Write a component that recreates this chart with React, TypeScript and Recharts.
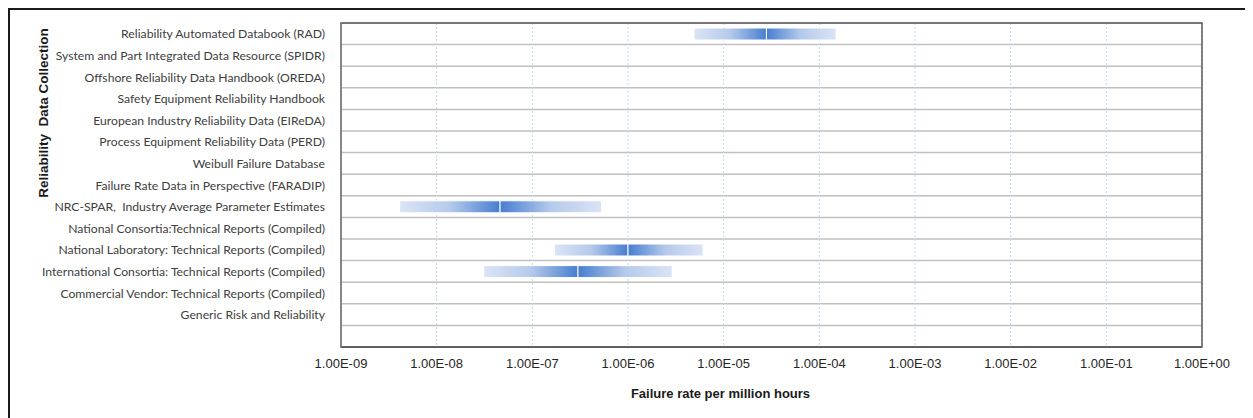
import { ComposedChart, Bar, XAxis, YAxis, CartesianGrid, ReferenceArea, Label } from 'recharts'

// reliability data sources (last row is an empty spacer row)
const categories = [
  'Reliability Automated Databook (RAD)',
  'System and Part Integrated Data Resource (SPIDR)',
  'Offshore Reliability Data Handbook (OREDA)',
  'Safety Equipment Reliability Handbook',
  'European Industry Reliability Data (EIReDA)',
  'Process Equipment Reliability Data (PERD)',
  'Weibull Failure Database',
  'Failure Rate Data in Perspective (FARADIP)',
  'NRC-SPAR,  Industry Average Parameter Estimates',
  'National Consortia:Technical Reports (Compiled)',
  'National Laboratory: Technical Reports (Compiled)',
  'International Consortia: Technical Reports (Compiled)',
  'Commercial Vendor: Technical Reports (Compiled)',
  'Generic Risk and Reliability',
  '',
]

// failure rate range per source: low / typical / high
const low = [4.9e-6, null, null, null, null, null, null, null, 4.1e-9, null, 1.7e-7, 3.1e-8, null, null, null]
const mid = [2.8e-5, null, null, null, null, null, null, null, 4.6e-8, null, 1.0e-6, 3.0e-7, null, null, null]
const high = [1.5e-4, null, null, null, null, null, null, null, 5.3e-7, null, 6.1e-6, 2.9e-6, null, null, null]

const xTicks = [1e-9, 1e-8, 1e-7, 1e-6, 1e-5, 1e-4, 1e-3, 1e-2, 1e-1, 1]

const data = categories.map((name, i) => ({
  name,
  lower: low[i] != null ? [low[i], mid[i]] : null,
  upper: high[i] != null ? [mid[i], high[i]] : null,
}))

const fmt = (v: number) => {
  const [m, e] = v.toExponential(2).split('e')
  const n = Number(e)
  return `${m}E${n < 0 ? '-' : '+'}${String(Math.abs(n)).padStart(2, '0')}`
}

const BAR = 12

// plain svg text so long names don't wrap
const CategoryTick = ({ x, y, payload }: any) => (
  <text
    x={x}
    y={y}
    textAnchor="end"
    dominantBaseline="central"
    fontFamily="Lato"
    fontSize={12.2}
    fill="#404040"
    style={{ whiteSpace: 'pre' }}
  >
    {payload.value}
  </text>
)

export default function App() {
  return (
    <div
      style={{
        width: 1243,
        height: 408,
        borderLeft: '2px solid #1a1a1a',
        borderTop: '2px solid #1a1a1a',
        background: '#fff',
        overflow: 'hidden',
      }}
    >
      <div style={{ marginLeft: -2 }}>
        <ComposedChart
          width={1250}
          height={400}
          layout="vertical"
          data={data}
          margin={{ top: 13, right: 56, left: 0, bottom: 33 }}
          barGap={-BAR}
        >
          <defs>
            <linearGradient id="gLeft" x1="0" y1="0" x2="1" y2="0">
              <stop offset="0" stopColor="#dbe4f5" />
              <stop offset="0.5" stopColor="#b5caeb" />
              <stop offset="1" stopColor="#477dd0" />
            </linearGradient>
            <linearGradient id="gRight" x1="0" y1="0" x2="1" y2="0">
              <stop offset="0" stopColor="#477dd0" />
              <stop offset="0.5" stopColor="#b5caeb" />
              <stop offset="1" stopColor="#dbe4f5" />
            </linearGradient>
          </defs>
          <CartesianGrid
            vertical={false}
            stroke="#c0c0c0"
            strokeWidth={1.5}
            horizontalCoordinatesGenerator={({ offset }: any) =>
              categories.map((_, i) => offset.top + (i * offset.height) / categories.length).concat(offset.top + offset.height)
            }
          />
          <CartesianGrid horizontal={false} stroke="#c5d6f0" strokeDasharray="2 2" />
          <XAxis
            type="number"
            scale="log"
            domain={[1e-9, 1]}
            allowDataOverflow
            ticks={xTicks}
            tickFormatter={fmt}
            axisLine={{ stroke: '#595959', strokeWidth: 1.5 }}
            tickLine={false}
            tickSize={6}
            tickMargin={6}
            height={30}
            tick={{ fontFamily: 'Liberation Sans, Arial', fontSize: 13, fill: '#262626' }}
          >
            <Label
              content={({ viewBox }: any) => (
                <text
                  x={viewBox.x + viewBox.width / 2 - 51}
                  y={viewBox.y + 46}
                  textAnchor="middle"
                  dominantBaseline="central"
                  fontFamily="Liberation Sans, Arial"
                  fontWeight="bold"
                  fontSize={13}
                  fill="#1a1a1a"
                >
                  Failure rate per million hours
                </text>
              )}
            />
          </XAxis>
          <YAxis
            type="category"
            dataKey="name"
            width={333}
            interval={0}
            axisLine={{ stroke: '#8c8c8c' }}
            tickLine={false}
            tickSize={6}
            tickMargin={10}
            tick={<CategoryTick />}
          >
            <Label
              content={({ viewBox }: any) => {
                const x = viewBox.x + 35
                const y = viewBox.y + 90
                return (
                  <text
                    x={x}
                    y={y}
                    transform={`rotate(-90, ${x}, ${y})`}
                    textAnchor="middle"
                    dominantBaseline="central"
                    fontFamily="Liberation Sans, Arial"
                    fontWeight="bold"
                    fontSize={13.5}
                    fill="#1a1a1a"
                    style={{ whiteSpace: 'pre' }}
                  >
                    {'Reliability  Data Collection'}
                  </text>
                )
              }}
            />
          </YAxis>
          <Bar dataKey="lower" barSize={BAR} fill="url(#gLeft)" stroke="#ffffff" strokeWidth={1} isAnimationActive={false} />
          <Bar dataKey="upper" barSize={BAR} fill="url(#gRight)" stroke="#ffffff" strokeWidth={1} isAnimationActive={false} />
          <ReferenceArea x1={1e-9} x2={1} fill="none" stroke="#595959" strokeWidth={1.5} ifOverflow="visible" />
        </ComposedChart>
      </div>
    </div>
  )
}
